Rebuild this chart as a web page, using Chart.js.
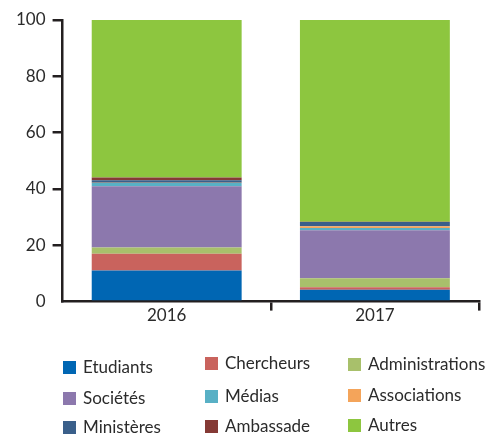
<!DOCTYPE html>
<html>
<head>
<meta charset="utf-8">
<script src="https://cdn.jsdelivr.net/npm/chart.js@4/dist/chart.umd.min.js"></script>
<style>
  body { margin: 0; background: #fff; }
  #wrap { position: relative; width: 492px; height: 434px; }
  #legende { position: absolute; left: 0; top: 0; font-family: Lato, sans-serif; font-size: 17px; color: #2b2b2b; }
  .item { position: absolute; white-space: nowrap; line-height: 18px; }
  .item span.box { position: absolute; left: 0; top: 3px; width: 13px; height: 13px; }
  .item span.txt { position: absolute; left: 20px; top: 0; }
</style>
</head>
<body>
<div id="wrap">
  <canvas id="graphique" width="492" height="434"></canvas>
  <div id="legende"></div>
</div>
<script>
// Données
const annees = ["2016", "2017"];
const categories = ["Etudiants", "Chercheurs", "Administrations", "Sociétés", "Médias", "Associations", "Ministères", "Ambassade", "Autres"];
const etudiants = [11, 4.2];
const chercheurs = [6, 0.9];
const administrations = [2.2, 3.2];
const societes = [21.8, 17];
const medias = [1.1, 0.8];
const associations = [0.1, 0.7];
const ministeres = [0.9, 1.5];
const ambassade = [1, 0.1];
const autres = [55.9, 71.6];
const couleurs = ["#0066b3", "#c9635d", "#a8c06b", "#8c78ad", "#58b0c5", "#f4a45a", "#3a5f8a", "#853a35", "#8dc63f"];
const graduations = [0, 20, 40, 60, 80, 100];

const series = [etudiants, chercheurs, administrations, societes, medias, associations, ministeres, ambassade, autres];
const noir = "#231f20";

const datasets = categories.map((nom, i) => ({
  label: nom,
  data: series[i],
  backgroundColor: couleurs[i],
  borderWidth: 0,
  barPercentage: 0.72,
  categoryPercentage: 1
}));

new Chart(document.getElementById("graphique"), {
  type: "bar",
  data: { labels: annees, datasets: datasets },
  options: {
    responsive: false,
    animation: false,
    layout: { padding: { top: 20, right: 13, bottom: 113, left: 9 } },
    plugins: { legend: { display: false }, tooltip: { enabled: false } },
    scales: {
      x: {
        stacked: true,
        border: { display: true, color: noir, width: 2.5 },
        grid: {
          drawOnChartArea: false,
          drawTicks: true,
          tickLength: 9,
          offset: true,
          lineWidth: 2.5,
          color: (ctx) => ctx.index === 0 ? "rgba(0,0,0,0)" : noir
        },
        ticks: { color: "#2b2b2b", font: { family: "Lato", size: 17 }, padding: -5 }
      },
      y: {
        stacked: true,
        min: 0,
        max: 100,
        afterBuildTicks: (axis) => { axis.ticks = graduations.map(v => ({ value: v })); },
        border: { display: true, color: noir, width: 2.5 },
        grid: {
          drawOnChartArea: false,
          drawTicks: true,
          tickLength: 10,
          lineWidth: 2.5,
          color: (ctx) => ctx.index === 0 ? "rgba(0,0,0,0)" : noir
        },
        ticks: { color: "#2b2b2b", font: { family: "Lato", size: 17 }, padding: 7 }
      }
    }
  }
});

// Légende en trois colonnes
const legende = document.getElementById("legende");
const colX = [63, 205, 348];
const rowY = [[358, 389, 418], [354, 387, 417], [355, 386, 416]];
categories.forEach((nom, i) => {
  const col = i % 3, row = Math.floor(i / 3);
  const el = document.createElement("div");
  el.className = "item";
  el.style.left = colX[col] + "px";
  el.style.top = rowY[col][row] + "px";
  el.innerHTML = '<span class="box" style="background:' + couleurs[i] + '"></span><span class="txt">' + nom + '</span>';
  legende.appendChild(el);
});
</script>
</body>
</html>
